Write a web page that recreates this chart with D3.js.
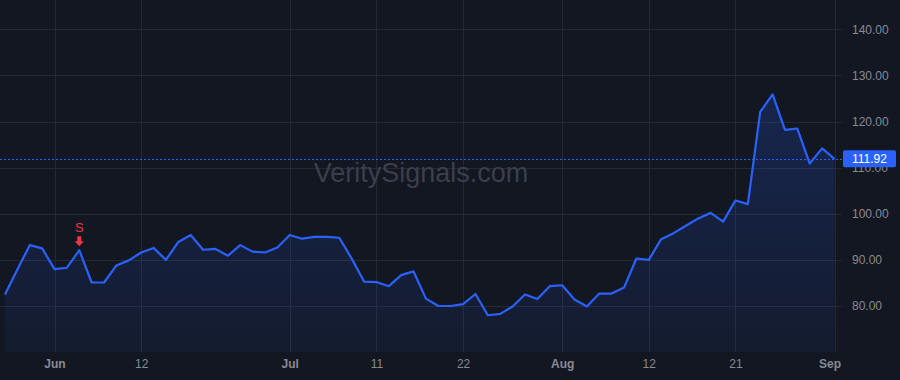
<!DOCTYPE html>
<html>
<head>
<meta charset="utf-8">
<script src="https://cdn.jsdelivr.net/npm/d3@7"></script>
<style>
  html, body { margin: 0; padding: 0; background: #131722; }
  svg { display: block; }
  text { font-family: "Liberation Sans", Arial, sans-serif; }
</style>
</head>
<body>
<svg id="chart" width="900" height="380"></svg>
<script>
// trading days, May 28 -> Sep 3
var dates = [
  "2024-05-28", "2024-05-29", "2024-05-30", "2024-05-31",
  "2024-06-03", "2024-06-04", "2024-06-05", "2024-06-06", "2024-06-07",
  "2024-06-10", "2024-06-11", "2024-06-12", "2024-06-13", "2024-06-14",
  "2024-06-17", "2024-06-18", "2024-06-20", "2024-06-21",
  "2024-06-24", "2024-06-25", "2024-06-26", "2024-06-27", "2024-06-28",
  "2024-07-01", "2024-07-02", "2024-07-03", "2024-07-05",
  "2024-07-08", "2024-07-09", "2024-07-10", "2024-07-11", "2024-07-12",
  "2024-07-15", "2024-07-16", "2024-07-17", "2024-07-18", "2024-07-19",
  "2024-07-22", "2024-07-23", "2024-07-24", "2024-07-25", "2024-07-26",
  "2024-07-29", "2024-07-30", "2024-07-31", "2024-08-01", "2024-08-02",
  "2024-08-05", "2024-08-06", "2024-08-07", "2024-08-08", "2024-08-09",
  "2024-08-12", "2024-08-13", "2024-08-14", "2024-08-15", "2024-08-16",
  "2024-08-19", "2024-08-20", "2024-08-21", "2024-08-22", "2024-08-23",
  "2024-08-26", "2024-08-27", "2024-08-28", "2024-08-29", "2024-08-30",
  "2024-09-03"
];

var closes = [
  82.5, 87.9, 93.2, 92.5, 88.0, 88.3, 92.1, 85.1, 85.1, 88.8,
  89.9, 91.6, 92.6, 90.0, 93.9, 95.4, 92.2, 92.4, 90.9, 93.2,
  91.8, 91.6, 92.7, 95.4, 94.6, 95.0, 95.0, 94.8, 90.3, 85.3,
  85.2, 84.3, 86.7, 87.5, 81.6, 80.0, 80.0, 80.4, 82.6, 78.0,
  78.3, 79.9, 82.5, 81.5, 84.3, 84.5, 81.4, 79.9, 82.7, 82.7,
  84.0, 90.3, 90.0, 94.5, 95.8, 97.4, 99.0, 100.2, 98.3, 102.9,
  102.1, 122.1, 125.9, 118.2, 118.5, 110.9, 114.2, 111.92
];

var tickDates = ["2024-06-03", "2024-06-12", "2024-07-01", "2024-07-11", "2024-07-22",
                 "2024-08-01", "2024-08-12", "2024-08-21", "2024-09-03"];
var tickLabels = ["Jun", "12", "Jul", "11", "22", "Aug", "12", "21", "Sep"];
var monthTicks = ["Jun", "Jul", "Aug", "Sep"];

var priceTicks = [80, 90, 100, 110, 120, 130, 140];

var signalDates = ["2024-06-05"];
var signalTypes = ["S"];

var lastPrice = closes[closes.length - 1];

var PLOT_RIGHT = 842;
var PLOT_BOTTOM = 352;
var LINE_COLOR = "#2962ff";
var GRID_COLOR = "#252934";
var TEXT_COLOR = "#878a93";

var svg = d3.select("#chart");

var x = d3.scalePoint().domain(dates).range([5, 834.5]);
var y = d3.scaleLinear().domain([80, 140]).range([306, 29.4]);

// background
svg.append("rect").attr("width", 900).attr("height", 380).attr("fill", "#131722");

// grid
var grid = svg.append("g").attr("class", "grid");
grid.selectAll(".hgrid").data(priceTicks).enter().append("line")
    .attr("x1", 0).attr("x2", PLOT_RIGHT)
    .attr("y1", function(d) { return Math.round(y(d)) + 0.5; })
    .attr("y2", function(d) { return Math.round(y(d)) + 0.5; })
    .attr("stroke", GRID_COLOR).attr("stroke-width", 1);
grid.selectAll(".vgrid").data(tickDates).enter().append("line")
    .attr("x1", function(d) { return Math.round(x(d)) + 0.5; })
    .attr("x2", function(d) { return Math.round(x(d)) + 0.5; })
    .attr("y1", 0).attr("y2", PLOT_BOTTOM)
    .attr("stroke", GRID_COLOR).attr("stroke-width", 1);

// watermark
svg.append("text")
    .attr("x", 421).attr("y", 182)
    .attr("text-anchor", "middle")
    .attr("font-size", 27)
    .attr("fill", "#3b3f4c")
    .text("VeritySignals.com");

// area + line
var defs = svg.append("defs");
var grad = defs.append("linearGradient").attr("id", "areaGrad")
    .attr("x1", 0).attr("y1", 0).attr("x2", 0).attr("y2", 1);
grad.append("stop").attr("offset", "0%").attr("stop-color", LINE_COLOR).attr("stop-opacity", 0.2);
grad.append("stop").attr("offset", "100%").attr("stop-color", LINE_COLOR).attr("stop-opacity", 0.06);

var area = d3.area()
    .x(function(d, i) { return x(dates[i]); })
    .y0(PLOT_BOTTOM)
    .y1(function(d) { return y(d); });

var line = d3.line()
    .x(function(d, i) { return x(dates[i]); })
    .y(function(d) { return y(d); });

svg.append("path").datum(closes)
    .attr("d", area)
    .attr("fill", "url(#areaGrad)");

svg.append("path").datum(closes)
    .attr("d", line)
    .attr("fill", "none")
    .attr("stroke", LINE_COLOR)
    .attr("stroke-width", 2.2)
    .attr("stroke-linejoin", "round");

// last price line
svg.append("line")
    .attr("x1", 0).attr("x2", PLOT_RIGHT)
    .attr("y1", Math.round(y(lastPrice)) + 0.5).attr("y2", Math.round(y(lastPrice)) + 0.5)
    .attr("stroke", LINE_COLOR).attr("stroke-width", 1)
    .attr("stroke-dasharray", "2,2");

// signals
var sig = svg.selectAll(".signal").data(signalDates).enter().append("g")
    .attr("class", "signal")
    .attr("transform", function(d) {
      return "translate(" + x(d) + "," + y(closes[dates.indexOf(d)]) + ")";
    });
sig.append("path")
    .attr("d", "M-2,-14 L2,-14 L2,-9 L4.5,-9 L0,-4 L-4.5,-9 L-2,-9 Z")
    .attr("fill", "#f23645");
sig.append("text")
    .attr("y", -18)
    .attr("text-anchor", "middle")
    .attr("font-size", 13)
    .attr("fill", "#f23645")
    .text(function(d, i) { return signalTypes[i]; });

// y axis
var yAxis = d3.axisRight(y)
    .tickValues(priceTicks)
    .tickFormat(d3.format(".2f"))
    .tickSize(0)
    .tickPadding(0);
var gy = svg.append("g").attr("transform", "translate(852,0)").call(yAxis);
gy.select(".domain").remove();
gy.selectAll("text")
    .attr("fill", TEXT_COLOR)
    .attr("font-size", 12)
    .attr("font-family", "'Liberation Sans', Arial, sans-serif");

// x axis
var xAxis = d3.axisBottom(x)
    .tickValues(tickDates)
    .tickFormat(function(d, i) { return tickLabels[i]; })
    .tickSize(0)
    .tickPadding(0);
var gx = svg.append("g").attr("transform", "translate(0,359)").call(xAxis);
gx.select(".domain").remove();
gx.selectAll("text")
    .attr("fill", TEXT_COLOR)
    .attr("font-size", 12)
    .attr("font-family", "'Liberation Sans', Arial, sans-serif")
    .attr("dx", function(d, i) { return i == tickDates.length - 1 ? -5 : 0; })
    .attr("font-weight", function(d, i) { return monthTicks.indexOf(tickLabels[i]) >= 0 ? "bold" : "normal"; });

// last price label (sits over the 110.00 tick, as in the source)
var ly = y(lastPrice);
svg.append("rect")
    .attr("x", 843).attr("y", ly - 8.5)
    .attr("width", 53).attr("height", 17)
    .attr("rx", 2)
    .attr("fill", LINE_COLOR);
svg.append("text")
    .attr("x", 852).attr("y", ly + 4.5)
    .attr("font-size", 12)
    .attr("fill", "#ffffff")
    .text(d3.format(".2f")(lastPrice));
</script>
</body>
</html>
